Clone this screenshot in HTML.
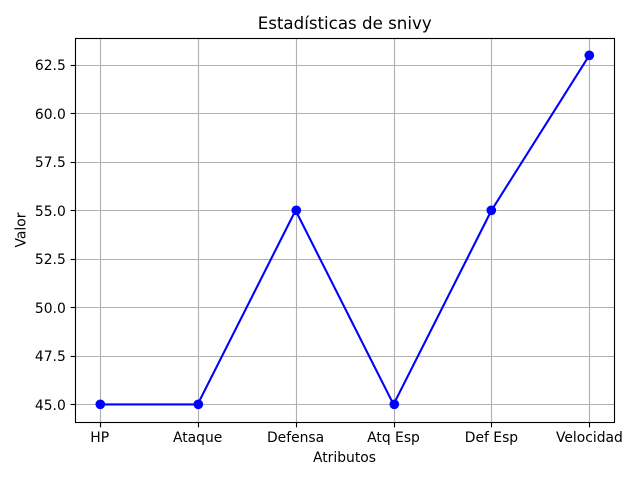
<!DOCTYPE html>
<html>
<head>
<meta charset="utf-8">
<style>
html,body{margin:0;padding:0;background:#fff;width:640px;height:480px;overflow:hidden}
svg{display:block}
text{font-family:"DejaVu Sans","Liberation Sans",sans-serif;fill:#000}
</style>
</head>
<body>
<svg id="chart" width="640" height="480" viewBox="0 0 640 480" xmlns="http://www.w3.org/2000/svg"></svg>
<script>
const categories = ["HP", "Ataque", "Defensa", "Atq Esp", "Def Esp", "Velocidad"];
const values = [45, 45, 55, 45, 55, 63];
const yTicks = [45, 47.5, 50, 52.5, 55, 57.5, 60, 62.5];
const yTickLabels = ["45.0", "47.5", "50.0", "52.5", "55.0", "57.5", "60.0", "62.5"];

const NS = "http://www.w3.org/2000/svg";
const svg = document.getElementById("chart");
const plot = { left: 75.2, right: 613.9, top: 37.7, bottom: 421.9 };
const LW = 1.11;
const TICK = 4.86;
const FS = 13.89;

function snap(p) {
  return Math.floor(p + 0.5) + 0.5;
}
function xScale(i) {
  const n = categories.length - 1;
  const span = n * 1.1;
  return plot.left + ((i + n * 0.05) / span) * (plot.right - plot.left);
}
function yScale(v) {
  const lo = Math.min(...values), hi = Math.max(...values);
  const pad = (hi - lo) * 0.05;
  return plot.bottom - ((v - (lo - pad)) / ((hi + pad) - (lo - pad))) * (plot.bottom - plot.top);
}
function make(tag, attrs, text) {
  const el = document.createElementNS(NS, tag);
  for (const k in attrs) el.setAttribute(k, attrs[k]);
  if (text !== undefined) el.textContent = text;
  svg.appendChild(el);
  return el;
}

const frameL = snap(plot.left), frameR = snap(plot.right), frameT = snap(plot.top), frameB = snap(plot.bottom);

categories.forEach((c, i) => {
  const x = snap(xScale(i));
  const grid = make("line", { x1: x, x2: x, y1: frameT, y2: frameB, stroke: "#b0b0b0", "stroke-width": LW });
  
  
  const tick = make("line", { x1: x, x2: x, y1: frameB, y2: frameB + TICK, stroke: "#000", "stroke-width": LW });
  
  
  const label = make("text", { x: xScale(i), y: 442, "text-anchor": "middle", "font-size": FS }, c);
  
  
});

yTicks.forEach((v, i) => {
  const y = snap(yScale(v));
  const grid = make("line", { x1: frameL, x2: frameR, y1: y, y2: y, stroke: "#b0b0b0", "stroke-width": LW });
  
  
  const tick = make("line", { x1: frameL - TICK, x2: frameL, y1: y, y2: y, stroke: "#000", "stroke-width": LW });
  
  
  const label = make("text", { x: plot.left - 9.4, y: Math.round(yScale(v) + 5.3), "text-anchor": "end", "font-size": FS }, yTickLabels[i]);
  
  
});

const line = make("polyline", {
  points: values.map((v, i) => xScale(i) + "," + yScale(v)).join(" "),
  fill: "none", stroke: "#0000ff", "stroke-width": 2.08, "stroke-linejoin": "round"
});



values.forEach((v, i) => {
  const pt = make("circle", { cx: snap(xScale(i)) - 0.2, cy: snap(yScale(v)) - 0.2, r: 4.86, fill: "#0000ff" });
  
  
});

const frame = make("rect", { x: frameL, y: frameT, width: frameR - frameL, height: frameB - frameT, fill: "none", stroke: "#000", "stroke-width": LW });



const title = make("text", { x: 344.7, y: 29, "text-anchor": "middle", "font-size": 16.67 }, "Estadísticas de snivy");



const xTitle = make("text", { x: 344.5, y: 462, "text-anchor": "middle", "font-size": FS }, "Atributos");



const yTitle = make("text", { x: 0, y: 0, "text-anchor": "middle", "font-size": FS, transform: "translate(25.5 230) rotate(-90)" }, "Valor");


</script>
</body>
</html>
